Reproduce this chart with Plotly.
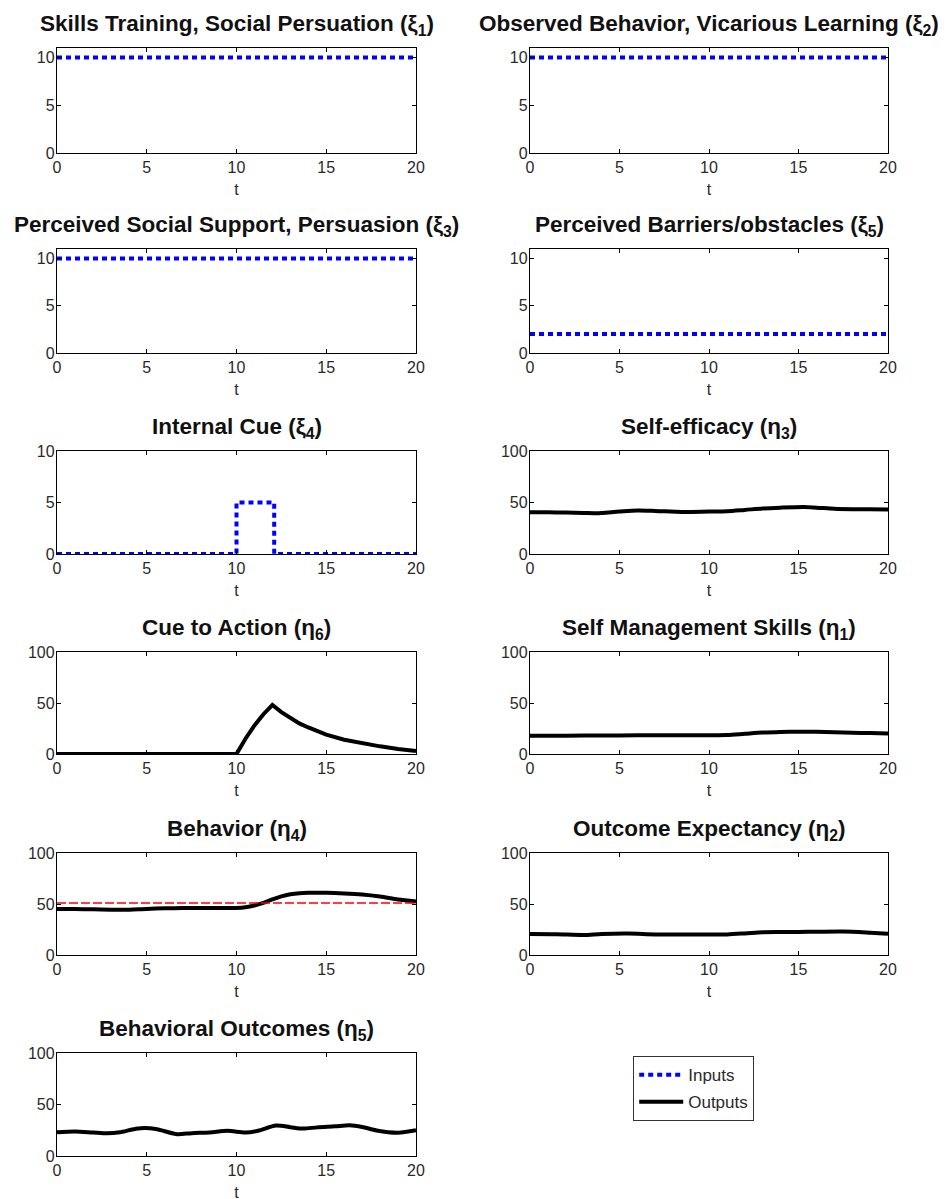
import plotly.graph_objects as go

# ---------------- data ----------------
t_const = [0, 20]
xi1 = [10, 10]
xi2 = [10, 10]
xi3 = [10, 10]
xi5 = [2, 2]

t_xi4 = [0, 10, 10, 12.1, 12.1, 20]
xi4 = [0, 0, 5, 5, 0, 0]

t_eta3 = [0, 1, 2, 3, 3.7, 5, 6, 7, 8.5, 10, 11, 12, 13, 14, 15.3, 16, 17, 18, 19, 20]
eta3 = [40.5, 40.5, 40.2, 39.8, 39.6, 41.2, 42.2, 41.8, 40.8, 41.2, 41.5, 42.8, 44.2, 45.0, 45.6, 45.0, 43.9, 43.5, 43.5, 43.2]

t_eta6 = [0, 10, 10.5, 11, 11.5, 12, 12.5, 13, 13.5, 14, 14.5, 15, 16, 17, 18, 19, 20]
eta6 = [0, 0, 15, 28, 39, 48, 41, 35, 30, 26, 22, 19, 14, 10.5, 7.5, 5, 3]

t_eta1 = [0, 2, 4, 6, 8, 10, 11, 12, 13, 14, 15, 16, 17, 18, 19, 20]
eta1 = [18.0, 18.0, 18.1, 18.4, 18.4, 18.4, 18.6, 19.8, 21.0, 21.6, 21.9, 21.8, 21.4, 20.9, 20.5, 20.2]

t_eta4 = [0, 1, 2, 3, 3.7, 5, 6, 7, 8, 9, 10, 10.5, 11, 11.5, 12, 12.5, 13, 13.5, 14, 15, 16, 17, 18, 19, 20]
eta4 = [45, 45, 44.8, 44.4, 44.3, 45.2, 45.8, 46, 46, 46, 46.1, 46.8, 48.5, 51, 54.5, 57.5, 59.5, 60.6, 61, 61, 60.4, 59.3, 57.3, 54.5, 52.5]
eta4_target = [51, 51]

t_eta2 = [0, 1.5, 3, 4, 5.5, 7, 9, 11, 12, 13, 14, 15, 16, 17.5, 19, 20]
eta2 = [20.5, 20.3, 19.6, 20.6, 21.0, 20.2, 20.2, 20.2, 21.2, 22.4, 22.6, 22.6, 22.8, 23.0, 21.8, 20.8]

t_eta5 = [0, 1, 2, 2.8, 3.5, 4.5, 5.5, 6, 6.7, 7.5, 8.5, 9.5, 10.5, 11.2, 12.2, 13, 13.7, 14.5, 15.5, 16.3, 17, 17.8, 19, 20]
eta5 = [23, 23.8, 22.8, 22, 23, 26.8, 26.3, 24, 21.2, 22.2, 22.8, 24.4, 22.8, 24.5, 29.5, 28, 26.6, 27.8, 28.8, 29.8, 28.2, 24.8, 22.6, 25]

x_ticks = [0, 5, 10, 15, 20]

# panels: (title, col, row, kind, t, values, yrange, yticks)
panels = [
    ("Skills Training, Social Persuation (ξ<sub>1</sub>)", 0, 0, "in", t_const, xi1, [0, 11], [0, 5, 10]),
    ("Observed Behavior, Vicarious Learning (ξ<sub>2</sub>)", 1, 0, "in", t_const, xi2, [0, 11], [0, 5, 10]),
    ("Perceived Social Support, Persuasion (ξ<sub>3</sub>)", 0, 1, "in", t_const, xi3, [0, 11], [0, 5, 10]),
    ("Perceived Barriers/obstacles (ξ<sub>5</sub>)", 1, 1, "in", t_const, xi5, [0, 11], [0, 5, 10]),
    ("Internal Cue (ξ<sub>4</sub>)", 0, 2, "in", t_xi4, xi4, [0, 10], [0, 5, 10]),
    ("Self-efficacy (η<sub>3</sub>)", 1, 2, "out", t_eta3, eta3, [0, 100], [0, 50, 100]),
    ("Cue to Action (η<sub>6</sub>)", 0, 3, "outlin", t_eta6, eta6, [0, 100], [0, 50, 100]),
    ("Self Management Skills (η<sub>1</sub>)", 1, 3, "out", t_eta1, eta1, [0, 100], [0, 50, 100]),
    ("Behavior (η<sub>4</sub>)", 0, 4, "out", t_eta4, eta4, [0, 100], [0, 50, 100]),
    ("Outcome Expectancy (η<sub>2</sub>)", 1, 4, "out", t_eta2, eta2, [0, 100], [0, 50, 100]),
    ("Behavioral Outcomes (η<sub>5</sub>)", 0, 5, "out", t_eta5, eta5, [0, 100], [0, 50, 100]),
]

W, H = 946, 1199
OFF = 8  # page body margin
col_px = [(57, 416), (530, 888)]
row_px = [(48, 153), (249, 353), (451, 554), (652, 754), (853, 955), (1053, 1156)]

FONT = "Liberation Sans, Arial, Helvetica, sans-serif"
BLUE = "#0000ff"
TXT = "#2a2a2a"


def px_x(p):
    return (p - OFF) / W


def px_y(p):
    return 1 - (p - OFF) / H


fig = go.Figure()
layout = dict(
    width=W, height=H,
    margin=dict(l=0, r=0, t=0, b=0, autoexpand=False),
    paper_bgcolor="white", plot_bgcolor="white",
    font=dict(family=FONT, size=16, color=TXT),
    showlegend=True,
    legend=dict(
        x=px_x(633), y=px_y(1056), xanchor="left", yanchor="top",
        bordercolor="#333", borderwidth=1.2, bgcolor="white",
        font=dict(family=FONT, size=17, color=TXT),
        itemwidth=44, tracegroupgap=2,
    ),
    annotations=[],
)

shown = {"in": False, "out": False}
for i, (title, c, r, kind, tt, vv, yr, yt) in enumerate(panels):
    n = i + 1
    xa = "x" if n == 1 else f"x{n}"
    ya = "y" if n == 1 else f"y{n}"
    x0, x1 = col_px[c]
    y0, y1 = row_px[r]
    axis_common = dict(
        showline=True, linecolor="black", linewidth=1.3, mirror="ticks",
        ticks="inside", ticklen=4, tickcolor="black", tickwidth=1.3,
        showgrid=False, zeroline=False, fixedrange=True, automargin=False,
        tickfont=dict(family=FONT, size=16, color=TXT),
    )
    layout["xaxis" if n == 1 else f"xaxis{n}"] = dict(
        axis_common, domain=[px_x(x0), px_x(x1)], range=[0, 20],
        tickvals=x_ticks, anchor=ya,
        title=dict(text="t", standoff=8, font=dict(family=FONT, size=16, color=TXT)),
    )
    layout["yaxis" if n == 1 else f"yaxis{n}"] = dict(
        axis_common, domain=[px_y(y1), px_y(y0)], range=yr,
        tickvals=yt, anchor=xa, ticklabelstandoff=-2,
    )
    group = "in" if kind == "in" else "out"
    if kind == "in":
        line = dict(color=BLUE, width=4, dash="5px,4px")
        name = "Inputs"
        shape = "linear"
    else:
        line = dict(color="black", width=4)
        name = "Outputs"
        shape = "linear" if kind == "outlin" else "spline"
    if shape == "spline":
        line["shape"] = "spline"
        line["smoothing"] = 0.8
    fig.add_trace(go.Scatter(
        x=tt, y=vv, xaxis=xa, yaxis=ya, mode="lines", line=line,
        name=name, legendgroup=group, showlegend=not shown[group],
        hoverinfo="skip",
    ))
    shown[group] = True
    if title.startswith("Behavior ("):
        fig.add_trace(go.Scatter(
            x=t_const, y=eta4_target, xaxis=xa, yaxis=ya, mode="lines",
            line=dict(color="#ff0000", width=1.5, dash="9px,3px"),
            showlegend=False, hoverinfo="skip",
        ))
    layout["annotations"].append(dict(
        text="<b>" + title + "</b>", xref="paper", yref="paper",
        x=(px_x(x0) + px_x(x1)) / 2, y=px_y(y0), xanchor="center", yanchor="middle",
        yshift=23, showarrow=False,
        font=dict(family=FONT, size=22.5, color="#111"),
    ))

fig.update_layout(**layout)
fig.write_html("out.html")
